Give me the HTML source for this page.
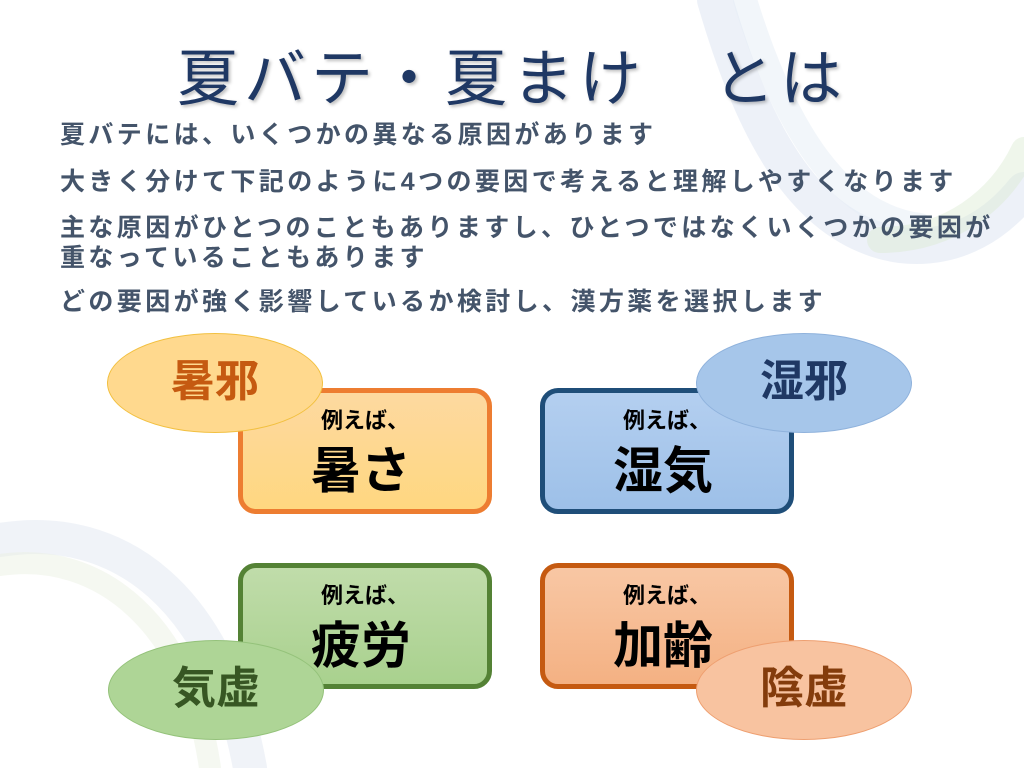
<!DOCTYPE html>
<html><head><meta charset="utf-8"><style>
body{margin:0;width:1024px;height:768px;position:relative;background:#fff;overflow:hidden;font-family:"Liberation Sans","Noto Sans CJK JP",sans-serif}
.t{position:absolute;white-space:nowrap}
.title{left:0;width:1024px;text-align:center;top:28px;font-size:62px;color:#1f3864;letter-spacing:5px;text-shadow:2px 2px 3px rgba(0,0,0,.25)}
.b{left:60px;font-size:25px;font-weight:bold;color:#44546a;letter-spacing:3.4px}
.box{position:absolute;width:244px;height:116px;border-radius:18px;border:5px solid;text-align:center;color:#000;font-weight:bold}
.box .s{position:absolute;left:0;right:0;top:10px;font-size:22px}
.box .m{position:absolute;left:-8px;right:0;top:38px;font-size:50px}
.el{position:absolute;width:214px;height:98px;border-radius:50%;border:1px solid;text-align:center;font-weight:bold;font-size:44px;line-height:96px}
</style></head><body>
<svg width="1024" height="768" style="position:absolute;left:0;top:0">
<g fill="none" stroke-linecap="round">
<path d="M715 0 C750 120 800 230 900 245 C960 252 1000 220 1024 190" stroke="#d7e1ef" stroke-width="36" opacity=".45"/>
<path d="M745 0 C785 130 840 215 920 225" stroke="#e6edf6" stroke-width="24" opacity=".5"/>
<path d="M880 240 C950 240 1000 200 1024 150" stroke="#dcebd2" stroke-width="26" opacity=".45"/>
<path d="M0 540 C120 520 220 600 250 768" stroke="#dde5f0" stroke-width="34" opacity=".45"/>
<path d="M0 565 C100 550 190 625 210 768" stroke="#e9f0e0" stroke-width="22" opacity=".45"/>
</g></svg>
<div class="t title">夏バテ・夏まけ　とは</div>
<div class="t b" style="top:115px">夏バテには、いくつかの異なる原因があります</div>
<div class="t b" style="top:162px">大きく分けて下記のように4つの要因で考えると理解しやすくなります</div>
<div class="t b" style="top:208px">主な原因がひとつのこともありますし、ひとつではなくいくつかの要因が</div>
<div class="t b" style="top:238px">重なっていることもあります</div>
<div class="t b" style="top:282px">どの要因が強く影響しているか検討し、漢方薬を選択します</div>

<div class="box" style="left:238px;top:388px;border-color:#ed7d31;background:linear-gradient(#fdd9a0,#ffd780)"><div class="s">例えば、</div><div class="m">暑さ</div></div>
<div class="el" style="left:107px;top:333px;background:#ffd98e;border-color:#f2c040;color:#c55a11">暑邪</div>

<div class="box" style="left:540px;top:388px;border-color:#1f4e79;background:linear-gradient(#b4cff0,#9dc0e8)"><div class="s">例えば、</div><div class="m">湿気</div></div>
<div class="el" style="left:696px;top:333px;background:#a6c6ea;border-color:#8fb2dc;color:#1f3864">湿邪</div>

<div class="box" style="left:238px;top:563px;border-color:#548235;background:linear-gradient(#c0dcaa,#a9d18e)"><div class="s">例えば、</div><div class="m">疲労</div></div>
<div class="el" style="left:108px;top:640px;background:#aed596;border-color:#94c27a;color:#375623">気虚</div>

<div class="box" style="left:540px;top:563px;border-color:#c55a11;background:linear-gradient(#f8c7a4,#f4b183)"><div class="s">例えば、</div><div class="m">加齢</div></div>
<div class="el" style="left:696px;top:640px;background:#f8c3a0;border-color:#ee9f70;color:#843c0c">陰虚</div>
</body></html>
